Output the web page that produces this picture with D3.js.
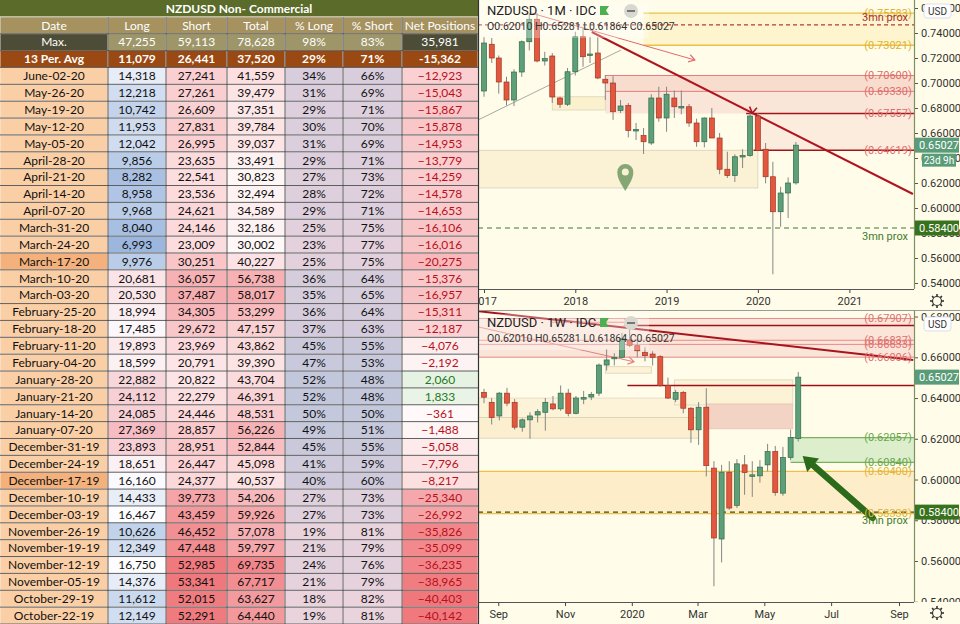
<!DOCTYPE html>
<html>
<head>
<meta charset="utf-8">
<script src="https://cdn.jsdelivr.net/npm/d3@7/dist/d3.min.js"></script>
<style>
  body { margin: 0; background: #ffffff; }
  svg { display: block; }
</style>
</head>
<body>
<div id="chart"></div>
<script>
// ---------- COT table ----------
var headers = ['Date', 'Long', 'Short', 'Total', '% Long', '% Short', 'Net Positions'];
var maxRow = ['Max.', '47,255', '59,113', '78,628', '98%', '83%', '35,981'];
var avgRow = ['13 Per. Avg', '11,079', '26,441', '37,520', '29%', '71%', '-15,362'];

var dates = ['June-02-20', 'May-26-20', 'May-19-20', 'May-12-20', 'May-05-20', 'April-28-20',
  'April-21-20', 'April-14-20', 'April-07-20', 'March-31-20', 'March-24-20', 'March-17-20',
  'March-10-20', 'March-03-20', 'February-25-20', 'February-18-20', 'February-11-20',
  'February-04-20', 'January-28-20', 'January-21-20', 'January-14-20', 'January-07-20',
  'December-31-19', 'December-24-19', 'December-17-19', 'December-10-19', 'December-03-19',
  'November-26-19', 'November-19-19', 'November-12-19', 'November-05-19', 'October-29-19',
  'October-22-19'];
var highlightDates = ['March-17-20', 'December-17-19'];
var longs = [14318, 12218, 10742, 11953, 12042, 9856, 8282, 8958, 9968, 8040, 6993, 9976, 20681,
  20530, 18994, 17485, 19893, 18599, 22882, 24112, 24085, 27369, 23893, 18651, 16160, 14433,
  16467, 10626, 12349, 16750, 14376, 11612, 12149];
var shorts = [27241, 27261, 26609, 27831, 26995, 23635, 22541, 23536, 24621, 24146, 23009, 30251,
  36057, 37487, 34305, 29672, 23969, 20791, 20822, 22279, 24446, 28857, 28951, 26447, 24377,
  39773, 43459, 46452, 47448, 52985, 53341, 52015, 52291];
var totals = [41559, 39479, 37351, 39784, 39037, 33491, 30823, 32494, 34589, 32186, 30002, 40227,
  56738, 58017, 53299, 47157, 43862, 39390, 43704, 46391, 48531, 56226, 52844, 45098, 40537,
  54206, 59926, 57078, 59797, 69735, 67717, 63627, 64440];
var pctLong = [34, 31, 29, 30, 31, 29, 27, 28, 29, 25, 23, 25, 36, 35, 36, 37, 45, 47, 52, 52, 50,
  49, 45, 41, 40, 27, 27, 19, 21, 24, 21, 18, 19];
var pctShort = [66, 69, 71, 70, 69, 71, 73, 72, 71, 75, 77, 75, 64, 65, 64, 63, 55, 53, 48, 48, 50,
  51, 55, 59, 60, 73, 73, 81, 79, 76, 79, 82, 81];
var nets = [-12923, -15043, -15867, -15878, -14953, -13779, -14259, -14578, -14653, -16106, -16016,
  -20275, -15376, -16957, -15311, -12187, -4076, -2192, 2060, 1833, -361, -1488, -5058, -7796,
  -8217, -25340, -26992, -35826, -35099, -36235, -38965, -40403, -40142];

// ---------- monthly candles (1M) ----------
var mDates = ['2017-01', '2017-02', '2017-03', '2017-04', '2017-05', '2017-06', '2017-07', '2017-08',
  '2017-09', '2017-10', '2017-11', '2017-12', '2018-01', '2018-02', '2018-03', '2018-04', '2018-05',
  '2018-06', '2018-07', '2018-08', '2018-09', '2018-10', '2018-11', '2018-12', '2019-01', '2019-02',
  '2019-03', '2019-04', '2019-05', '2019-06', '2019-07', '2019-08', '2019-09', '2019-10', '2019-11',
  '2019-12', '2020-01', '2020-02', '2020-03', '2020-04', '2020-05', '2020-06'];
var mOpen = [0.6936, 0.7310, 0.7200, 0.7008, 0.6864, 0.7088, 0.7330, 0.7510, 0.7176, 0.7216, 0.6880,
  0.6830, 0.7090, 0.7370, 0.7225, 0.7240, 0.7030, 0.7000, 0.6780, 0.6820, 0.6620, 0.6580, 0.6520,
  0.6880, 0.6720, 0.6880, 0.6810, 0.6810, 0.6680, 0.6530, 0.6720, 0.6560, 0.6310, 0.6260, 0.6410,
  0.6420, 0.6736, 0.6470, 0.6250, 0.5970, 0.6120, 0.62010];
var mHigh = [0.7370, 0.7360, 0.7220, 0.7050, 0.7110, 0.7340, 0.7558, 0.7560, 0.7250, 0.7240, 0.6890,
  0.7120, 0.7410, 0.7440, 0.7370, 0.7370, 0.7064, 0.7055, 0.6864, 0.6840, 0.6680, 0.6640, 0.6910,
  0.6970, 0.6970, 0.6940, 0.6940, 0.6832, 0.6715, 0.6725, 0.6800, 0.6600, 0.6450, 0.6430, 0.6470,
  0.6760, 0.6760, 0.6520, 0.6370, 0.6170, 0.6245, 0.65281];
var mLow = [0.6890, 0.7160, 0.6915, 0.6820, 0.6815, 0.7050, 0.7260, 0.7165, 0.7140, 0.6840, 0.6800,
  0.6816, 0.7060, 0.7130, 0.7160, 0.7030, 0.6864, 0.6705, 0.6760, 0.6565, 0.6544, 0.6432, 0.6505,
  0.6690, 0.6610, 0.6720, 0.6750, 0.6650, 0.6490, 0.6485, 0.6570, 0.6270, 0.6240, 0.6208, 0.6320,
  0.6410, 0.6460, 0.6197, 0.5470, 0.5850, 0.5920, 0.61864];
var mClose = [0.7320, 0.7200, 0.7008, 0.6864, 0.7088, 0.7330, 0.7510, 0.7176, 0.7195, 0.6888, 0.6830,
  0.7090, 0.7370, 0.7210, 0.7232, 0.7040, 0.7000, 0.6770, 0.6816, 0.6620, 0.6628, 0.6530, 0.6880,
  0.6720, 0.6910, 0.6810, 0.6812, 0.6680, 0.6530, 0.6720, 0.6560, 0.6310, 0.6260, 0.6410, 0.6420,
  0.6736, 0.6460, 0.6250, 0.5970, 0.6120, 0.6200, 0.65027];

// ---------- weekly candles (1W) ----------
var wDates = ['2019-08-19', '2019-08-26', '2019-09-02', '2019-09-09', '2019-09-16', '2019-09-23',
  '2019-09-30', '2019-10-07', '2019-10-14', '2019-10-21', '2019-10-28', '2019-11-04', '2019-11-11',
  '2019-11-18', '2019-11-25', '2019-12-02', '2019-12-09', '2019-12-16', '2019-12-23', '2019-12-30',
  '2020-01-06', '2020-01-13', '2020-01-20', '2020-01-27', '2020-02-03', '2020-02-10', '2020-02-17',
  '2020-02-24', '2020-03-02', '2020-03-09', '2020-03-16', '2020-03-23', '2020-03-30', '2020-04-06',
  '2020-04-13', '2020-04-20', '2020-04-27', '2020-05-04', '2020-05-11', '2020-05-18', '2020-05-25',
  '2020-06-01'];
var wOpen = [0.6428, 0.6379, 0.6312, 0.6424, 0.6379, 0.6257, 0.6293, 0.6317, 0.6330, 0.6371, 0.6347,
  0.6424, 0.6325, 0.6398, 0.6405, 0.6424, 0.6562, 0.6596, 0.6600, 0.6685, 0.6657, 0.6623, 0.6616,
  0.6603, 0.6461, 0.6394, 0.6428, 0.6350, 0.6244, 0.6355, 0.6056, 0.5708, 0.6036, 0.5873, 0.6072,
  0.6020, 0.6018, 0.6072, 0.6137, 0.5933, 0.6108, 0.62010];
var wHigh = [0.6445, 0.6400, 0.6430, 0.6450, 0.6395, 0.6300, 0.6330, 0.6345, 0.6400, 0.6410, 0.6462,
  0.6445, 0.6410, 0.6435, 0.6430, 0.6570, 0.6640, 0.6620, 0.6720, 0.6767, 0.6690, 0.6650, 0.6630,
  0.6610, 0.6500, 0.6440, 0.6435, 0.6355, 0.6380, 0.6448, 0.6090, 0.6072, 0.6090, 0.6100, 0.6120,
  0.6090, 0.6095, 0.6175, 0.6165, 0.6160, 0.6245, 0.65281];
var wLow = [0.6375, 0.6270, 0.6290, 0.6360, 0.6245, 0.6235, 0.6200, 0.6280, 0.6240, 0.6340, 0.6337,
  0.6310, 0.6320, 0.6370, 0.6390, 0.6410, 0.6535, 0.6560, 0.6595, 0.6650, 0.6600, 0.6580, 0.6560,
  0.6455, 0.6395, 0.6380, 0.6325, 0.6180, 0.6170, 0.6015, 0.5476, 0.5593, 0.5851, 0.5860, 0.5925,
  0.5915, 0.5985, 0.6040, 0.5920, 0.5920, 0.6095, 0.61864];
var wClose = [0.6404, 0.6304, 0.6424, 0.6375, 0.6257, 0.6293, 0.6312, 0.6333, 0.6379, 0.6347, 0.6424,
  0.6325, 0.6400, 0.6402, 0.6418, 0.6562, 0.6587, 0.6600, 0.6691, 0.6659, 0.6632, 0.6608, 0.6600,
  0.6461, 0.6400, 0.6428, 0.6350, 0.6244, 0.6355, 0.6068, 0.5713, 0.6036, 0.5860, 0.6077, 0.6034,
  0.6023, 0.6061, 0.6137, 0.5936, 0.6108, 0.6206, 0.65027];

// ---------- price levels & ticks ----------
var topTicks = [0.54, 0.56, 0.58, 0.60, 0.62, 0.64, 0.66, 0.68, 0.70, 0.72, 0.74, 0.76];
var botTicks = [0.54, 0.56, 0.58, 0.60, 0.62, 0.64, 0.66, 0.68];
var topGold = [0.75583, 0.73021];
var topPink = [0.70600, 0.69330];
var topDark = [0.67557, 0.64619];
var botPink = [0.67907, 0.66837, 0.66633, 0.66006];
var botDark = [0.67557, 0.64619];
var botGreen = [0.62057, 0.60840];
var botGold = [0.60400, 0.58330];
var proxTop = 0.7465, proxLow = 0.58400, lastPrice = 0.65027;
var ohlcText = 'O0.62010 H0.65281 L0.61864 C0.65027';

var W = 960, H = 624;
var fmtP = d3.format('.5f');
var parseM = d3.timeParse('%Y-%m'), parseW = d3.timeParse('%Y-%m-%d'), parseD = d3.timeParse('%Y-%m-%d');
var axisX = 914;
var chartFont = 'Roboto, "Liberation Sans", sans-serif';

var svg = d3.select('#chart').append('svg')
  .attr('width', W).attr('height', H)
  .style('font-family', chartFont);
var defs = svg.append('defs');

// scales
var xTop = d3.scaleTime().domain([new Date(2017, 0, 1), new Date(2021, 0, 1)]).range([484, 849.4]);
var yTop = d3.scaleLinear().domain([0.54, 0.74]).range([283, 33]);
var xBot = d3.scaleTime().domain([new Date(2019, 7, 19), new Date(2020, 8, 1)]).range([484, 899]);
var yBot = d3.scaleLinear().domain([0.56, 0.66]).range([561, 357.3]);

function makePanel(name, top, axisY, bottom) {
  var g = svg.append('g');
  g.append('rect').attr('x', 478).attr('y', top).attr('width', 482).attr('height', bottom - top)
    .attr('fill', '#fffde9');
  defs.append('clipPath').attr('id', 'clip-' + name).append('rect')
    .attr('x', 479).attr('y', top).attr('width', axisX - 479).attr('height', axisY - top);
  var plot = g.append('g').attr('clip-path', 'url(#clip-' + name + ')');
  return { g: g, plot: plot };
}

function box(layer, x, y, d0, d1, p0, p1, fill, stroke, op) {
  var xa = d0 ? x(parseD(d0)) : 478, xb = d1 ? x(parseD(d1)) : axisX;
  layer.append('rect')
    .attr('x', xa).attr('y', y(Math.max(p0, p1)))
    .attr('width', xb - xa).attr('height', Math.abs(y(p0) - y(p1)))
    .attr('fill', fill).attr('fill-opacity', op == null ? 1 : op)
    .attr('stroke', stroke || 'none').attr('stroke-width', 0.8);
}

function hline(layer, x, y, d0, p, color, width, dash) {
  var xa = d0 ? x(parseD(d0)) : 478;
  layer.append('line')
    .attr('x1', xa).attr('x2', axisX).attr('y1', y(p)).attr('y2', y(p))
    .attr('stroke', color).attr('stroke-width', width || 1)
    .attr('stroke-dasharray', dash || null);
}

function levelLabel(g, y, p, color, txt) {
  g.append('text').attr('x', 888).attr('y', y(p)).attr('dy', '0.35em')
    .attr('text-anchor', 'middle').attr('fill', color)
    .style('font-size', '11px')
    .text(txt || '(' + fmtP(p) + ')');
}

function seg(layer, x, y, d0, p0, d1, p1, color, width) {
  return layer.append('line')
    .attr('x1', x(parseD(d0))).attr('y1', y(p0))
    .attr('x2', x(parseD(d1))).attr('y2', y(p1))
    .attr('stroke', color).attr('stroke-width', width);
}

function chevron(layer, px, py, ang, size, color, width) {
  var a1 = ang + Math.PI * 0.82, a2 = ang - Math.PI * 0.82;
  layer.append('path')
    .attr('d', 'M' + (px + size * Math.cos(a1)) + ',' + (py + size * Math.sin(a1)) +
      'L' + px + ',' + py + 'L' + (px + size * Math.cos(a2)) + ',' + (py + size * Math.sin(a2)))
    .attr('fill', 'none').attr('stroke', color).attr('stroke-width', width);
}

function drawCandles(layer, ds, parse, o, h, l, c, x, y, bw) {
  var idx = d3.range(ds.length);
  layer.append('g').selectAll('line').data(idx).enter().append('line')
    .attr('x1', function (i) { return x(parse(ds[i])); })
    .attr('x2', function (i) { return x(parse(ds[i])); })
    .attr('y1', function (i) { return y(h[i]); })
    .attr('y2', function (i) { return y(l[i]); })
    .attr('stroke', '#858585').attr('stroke-width', 1);
  layer.append('g').selectAll('rect').data(idx).enter().append('rect')
    .attr('x', function (i) { return x(parse(ds[i])) - bw / 2; })
    .attr('y', function (i) { return y(Math.max(o[i], c[i])); })
    .attr('width', bw)
    .attr('height', function (i) { return Math.max(1.5, Math.abs(y(o[i]) - y(c[i]))); })
    .attr('fill', function (i) { return c[i] >= o[i] ? '#5c9f79' : '#e4573f'; })
    .attr('stroke', function (i) { return c[i] >= o[i] ? '#2f6b4b' : '#9e3524'; })
    .attr('stroke-width', 0.7);
}

function priceAxis(g, y, ticks, top, bottom, name) {
  defs.append('clipPath').attr('id', 'yclip-' + name).append('rect')
    .attr('x', axisX - 2).attr('y', top).attr('width', 50).attr('height', bottom - top);
  var a = g.append('g').attr('clip-path', 'url(#yclip-' + name + ')')
    .append('g').attr('transform', 'translate(' + axisX + ',0)')
    .call(d3.axisRight(y).tickValues(ticks).tickFormat(fmtP).tickSize(4).tickPadding(3));
  a.select('.domain').remove();
  a.selectAll('.tick line').attr('stroke', '#555');
  a.selectAll('.tick text').attr('fill', '#333').style('font-size', '11px').style('font-family', chartFont);
  g.append('line').attr('x1', axisX + 0.5).attr('x2', axisX + 0.5).attr('y1', top).attr('y2', bottom)
    .attr('stroke', '#7f8f62').attr('stroke-width', 1.2);
}

function timeAxis(g, x, yPos, ticks, fmt) {
  var a = g.append('g').attr('transform', 'translate(0,' + yPos + ')')
    .call(d3.axisBottom(x).ticks(ticks).tickFormat(fmt).tickSize(4).tickPadding(4));
  a.select('.domain').remove();
  a.selectAll('.tick line').attr('stroke', '#444');
  a.selectAll('.tick text').attr('fill', '#333').style('font-size', '11px').style('font-family', chartFont);
  g.append('line').attr('x1', 478).attr('x2', axisX).attr('y1', yPos + 0.5).attr('y2', yPos + 0.5)
    .attr('stroke', '#555').attr('stroke-width', 1.2);
}

function priceTag(g, y, p, fill, txt) {
  g.append('rect').attr('x', axisX + 1).attr('y', y(p) - 7.5).attr('width', W - axisX - 2).attr('height', 15)
    .attr('fill', fill);
  g.append('text').attr('x', axisX + 5).attr('y', y(p)).attr('dy', '0.35em').attr('fill', '#fff')
    .style('font-size', '11px').text(txt || fmtP(p));
}

function usdTag(g, cy) {
  g.append('rect').attr('x', 924).attr('y', cy - 7).attr('width', 27).attr('height', 14).attr('rx', 3)
    .attr('fill', '#ffffff').attr('stroke', '#dde');
  g.append('text').attr('x', 937.5).attr('y', cy).attr('dy', '0.35em').attr('text-anchor', 'middle')
    .attr('fill', '#333').style('font-size', '10px').text('USD');
}

function gear(g, cx, cy) {
  var k;
  for (k = 0; k < 8; k++) {
    var a = k * Math.PI / 4;
    g.append('line').attr('x1', cx + 4.5 * Math.cos(a)).attr('y1', cy + 4.5 * Math.sin(a))
      .attr('x2', cx + 7 * Math.cos(a)).attr('y2', cy + 7 * Math.sin(a))
      .attr('stroke', '#333').attr('stroke-width', 1.6);
  }
  g.append('circle').attr('cx', cx).attr('cy', cy).attr('r', 4.5).attr('fill', '#fffde9')
    .attr('stroke', '#333').attr('stroke-width', 1.2);
}

function header(g, y0, tf) {
  g.append('rect').attr('x', 479).attr('y', y0 - 8).attr('width', 170).attr('height', 36)
    .attr('fill', '#ffffff').attr('fill-opacity', 0.3);
  g.append('text').attr('x', 487).attr('y', y0 + 5).attr('fill', '#222').style('font-size', '13px')
    .text('NZDUSD · ' + tf + ' · IDC');
  g.append('path').attr('d', 'M600,' + (y0 - 4) + 'h9l-3,4.5l3,4.5h-9z').attr('fill', '#4caf50');
  g.append('circle').attr('cx', 631).attr('cy', y0 + 1).attr('r', 7).attr('fill', '#d8d8d0');
  g.append('line').attr('x1', 627).attr('x2', 635).attr('y1', y0 + 1).attr('y2', y0 + 1)
    .attr('stroke', '#777').attr('stroke-width', 2);
  g.append('text').attr('x', 487).attr('y', y0 + 20).attr('fill', '#333').style('font-size', '10.5px')
    .text(ohlcText);
}

// ================= TOP PANEL (1M) =================
var tp = makePanel('top', 0, 289, 310);
var L = tp.plot;
box(L, xTop, yTop, '2018-10-01', null, topGold[0], topGold[1], '#fdf0bd', null, 0.6);
box(L, xTop, yTop, '2018-05-01', null, topPink[0], topPink[1], '#f6d3c6', null, 0.8);
box(L, xTop, yTop, '2018-05-01', null, topPink[1], topDark[0], '#f9e0d4', null, 0.8);
box(L, xTop, yTop, '2019-12-15', null, topDark[0], topDark[1], '#fbe7da', null, 0.8);
box(L, xTop, yTop, '2017-10-01', '2018-05-01', 0.6890, 0.6784, '#fcf1cf', '#ddd5b5');
box(L, xTop, yTop, '2016-11-01', '2020-01-01', topDark[1], 0.6160, '#fbf1d4', '#d6cfb8');
// thin grey channel line
seg(L, xTop, yTop, '2016-12-08', 0.6704, '2018-07-03', 0.7264, '#a9a9a0', 1);
topGold.forEach(function (p) { hline(L, xTop, yTop, '2018-10-01', p, '#e9c148', 1.3); });
hline(L, xTop, yTop, null, proxTop, '#b33a3a', 1.2, '4,3');
topPink.forEach(function (p) { hline(L, xTop, yTop, '2018-05-01', p, '#e27d7d', 1); });
hline(L, xTop, yTop, '2019-11-15', topDark[0], '#a3151b', 1.5);
hline(L, xTop, yTop, '2019-12-15', topDark[1], '#a3151b', 1.5);
hline(L, xTop, yTop, null, proxLow, '#3f7b2c', 1.2, '5,4');
// thin arrow
seg(L, xTop, yTop, '2017-07-08', 0.7560, '2019-04-24', 0.7184, '#e06b6b', 1);
chevron(L, xTop(parseD('2019-04-24')), yTop(0.7184), 0.29, 7, '#e06b6b', 1.2);
// main downtrend line
seg(L, xTop, yTop, '2018-03-08', 0.7408, '2021-09-12', 0.6112, '#b0141e', 2);
chevron(L, xTop(parseD('2019-12-10')), yTop(0.6760), Math.PI / 2 + 0.15, 7, '#b0141e', 1.6);
// location pin
(function () {
  var px = xTop(parseD('2018-07-20')), py = yTop(0.6160) - 16;
  L.append('path')
    .attr('d', 'M' + px + ',' + (py + 19) + 'C' + (px - 4) + ',' + (py + 12) + ' ' + (px - 8) + ',' + (py + 7) + ' ' + (px - 8) + ',' + py +
      'A8,8 0 1,1 ' + (px + 8) + ',' + py + 'C' + (px + 8) + ',' + (py + 7) + ' ' + (px + 4) + ',' + (py + 12) + ' ' + px + ',' + (py + 19) + 'Z')
    .attr('fill', '#6e9a63').attr('fill-opacity', 0.85);
  L.append('circle').attr('cx', px).attr('cy', py).attr('r', 3.5).attr('fill', '#fbf1d4');
})();
drawCandles(L, mDates, parseM, mOpen, mHigh, mLow, mClose, xTop, yTop, 5);

topGold.forEach(function (p) { levelLabel(tp.g, yTop, p, '#e0b232'); });
topPink.forEach(function (p) { levelLabel(tp.g, yTop, p, '#e06b6b'); });
topDark.forEach(function (p) { levelLabel(tp.g, yTop, p, '#e06b6b'); });
tp.g.append('text').attr('x', 908).attr('y', yTop(proxTop) - 4).attr('text-anchor', 'end')
  .attr('fill', '#a83232').style('font-size', '11px').text('3mn prox');
tp.g.append('text').attr('x', 908).attr('y', yTop(proxLow) + 12).attr('text-anchor', 'end')
  .attr('fill', '#3f7b2c').style('font-size', '11px').text('3mn prox');
header(tp.g, 10, '1M');

priceAxis(tp.g, yTop, topTicks, 0, 289, 'top');
timeAxis(tp.g, xTop, 289, d3.timeYear.every(1), d3.timeFormat('%Y'));
priceTag(tp.g, yTop, lastPrice, '#5a9c79');
tp.g.append('rect').attr('x', 922).attr('y', yTop(lastPrice) + 8.5).attr('width', 34).attr('height', 13)
  .attr('fill', '#5a9c79');
tp.g.append('text').attr('x', 939).attr('y', yTop(lastPrice) + 15).attr('dy', '0.35em')
  .attr('text-anchor', 'middle').attr('fill', '#fff').style('font-size', '10px').text('23d 9h');
priceTag(tp.g, yTop, proxLow, '#38721c');
usdTag(tp.g, 11);
gear(tp.g, 937, 301);

// separator between panels
svg.append('line').attr('x1', 478).attr('x2', W).attr('y1', 310.5).attr('y2', 310.5)
  .attr('stroke', '#9a9a9a').attr('stroke-width', 1);

// ================= BOTTOM PANEL (1W) =================
var bp = makePanel('bot', 311, 602, 624);
var B = bp.plot;
box(B, xBot, yBot, null, null, botPink[0], botPink[3], '#f9dcd2', null, 0.75);
box(B, xBot, yBot, '2019-12-08', '2020-01-19', 0.6554, 0.6522, '#fcf2d6', '#ddd3b8');
box(B, xBot, yBot, null, '2020-03-02', 0.6400, 0.6304, '#fcf3d8', '#e2d9bf');
box(B, xBot, yBot, null, '2020-03-02', 0.6304, 0.6203, '#fbefcf', '#d9cfb3');
box(B, xBot, yBot, '2020-02-09', '2020-05-27', 0.6489, 0.6366, '#fcf2d6', '#ddd3b8');
box(B, xBot, yBot, '2020-03-09', '2020-05-27', 0.6371, 0.6249, '#f3d3c3', '#e6c3b0');
box(B, xBot, yBot, '2020-05-25', null, botGreen[0], botGreen[1], '#d8ecc9', null, 0.9);
box(B, xBot, yBot, null, null, botGold[0], botGold[1], '#fce8bd', null, 0.75);
botPink.forEach(function (p) { hline(B, xBot, yBot, null, p, '#e68a8a', 1); });
hline(B, xBot, yBot, '2020-01-01', botDark[0], '#9c1018', 1.5);
hline(B, xBot, yBot, '2019-12-28', botDark[1], '#9c1018', 1.5);
botGreen.forEach(function (p) { hline(B, xBot, yBot, '2020-05-25', p, '#78b45c', 1.2); });
botGold.forEach(function (p) { hline(B, xBot, yBot, null, p, '#eec04a', 1.3); });
hline(B, xBot, yBot, null, proxLow, '#3b4a2c', 1.1, '5,4');
// trend lines
seg(B, xBot, yBot, '2019-08-13', 0.6827, '2020-09-14', 0.6587, '#a8141d', 2);
seg(B, xBot, yBot, '2019-08-13', 0.6750, '2020-01-03', 0.6578, '#e58080', 1);
chevron(B, xBot(parseD('2020-01-03')), yBot(0.6578), 0.22, 7, '#e58080', 1.2);
seg(B, xBot, yBot, '2019-10-20', 0.6772, '2019-12-30', 0.6772, '#e58080', 1);
chevron(B, xBot(parseD('2019-12-30')), yBot(0.6772), 0, 7, '#e58080', 1.2);
B.append('rect').attr('x', xBot(parseD('2020-01-01')) - 3).attr('y', yBot(0.6778) - 2.5)
  .attr('width', 7).attr('height', 5).attr('rx', 1.5).attr('fill', '#a9aab0');
drawCandles(B, wDates, parseW, wOpen, wHigh, wLow, wClose, xBot, yBot, 5);
// big green arrow
(function () {
  var x1 = xBot(parseD('2020-08-08')), y1 = yBot(0.5812);
  var x2 = xBot(parseD('2020-06-05')), y2 = yBot(0.6115);
  var ang = Math.atan2(y2 - y1, x2 - x1);
  B.append('line').attr('x1', x1).attr('y1', y1).attr('x2', x2 - 8 * Math.cos(ang)).attr('y2', y2 - 8 * Math.sin(ang))
    .attr('stroke', '#2c6a1c').attr('stroke-width', 6.5).attr('stroke-linecap', 'round');
  var hx = x2 - 14 * Math.cos(ang), hy = y2 - 14 * Math.sin(ang);
  var nx = -Math.sin(ang), ny = Math.cos(ang);
  B.append('path').attr('d', 'M' + x2 + ',' + y2 + 'L' + (hx + 9 * nx) + ',' + (hy + 9 * ny) +
    'L' + (hx - 9 * nx) + ',' + (hy - 9 * ny) + 'Z').attr('fill', '#2c6a1c');
})();

botPink.forEach(function (p) { levelLabel(bp.g, yBot, p, '#e07070'); });
botGreen.forEach(function (p) { levelLabel(bp.g, yBot, p, '#6aa64c'); });
botGold.forEach(function (p) { levelLabel(bp.g, yBot, p, '#e5b435'); });
bp.g.append('text').attr('x', 908).attr('y', yBot(proxLow) + 12).attr('text-anchor', 'end')
  .attr('fill', '#3f7b2c').style('font-size', '11px').text('3mn prox');
header(bp.g, 322, '1W');

priceAxis(bp.g, yBot, botTicks, 311, 602, 'bot');
timeAxis(bp.g, xBot, 602, d3.timeMonth.every(2), function (d) {
  return d.getMonth() === 0 ? d3.timeFormat('%Y')(d) : d3.timeFormat('%b')(d);
});
priceTag(bp.g, yBot, lastPrice, '#5a9c79');
priceTag(bp.g, yBot, proxLow, '#38721c');
usdTag(bp.g, 324);
gear(bp.g, 937, 613);

// ================= COT TABLE =================
var cols = [0, 108, 166, 227, 285, 343, 402, 478];
var rowH = H / 37;
var longColor = d3.scaleLinear().domain([d3.min(longs), 16500, d3.max(longs)]).range(['#9cb7de', '#fdfdff', '#f5bdc3']);
var shortColor = d3.scaleLinear().domain(d3.extent(shorts)).range(['#fde4e6', '#ef787c']);
var totalColor = d3.scaleLinear().domain([d3.min(totals), 45000, d3.max(totals)]).range(['#fff8f8', '#fbd8da', '#f1868a']);
var pctColor = d3.scaleLinear().domain(d3.extent(pctLong)).range(['#ead3dd', '#c2c7dc']);
var netColor = d3.scaleLinear().domain([d3.min(nets), 0, d3.max(nets)]).range(['#ef787c', '#fffafa', '#e6f3e3']);
var fmtN = d3.format(',');

var T = svg.append('g').style('font-family', 'Lato, "Open Sans", sans-serif').style('font-size', '12px');

function cell(row, col, fill, txt, color, weight) {
  var x0 = cols[col], x1 = cols[col + 1], y0 = row * rowH;
  T.append('rect').attr('x', x0).attr('y', y0).attr('width', x1 - x0).attr('height', rowH)
    .attr('fill', fill).attr('stroke', '#f4f4f4').attr('stroke-width', 0.8);
  T.append('text').attr('x', (x0 + x1) / 2).attr('y', y0 + rowH / 2).attr('dy', '0.36em')
    .attr('text-anchor', 'middle').attr('fill', color).attr('font-weight', weight || 'normal').text(txt);
}

T.append('rect').attr('x', 0).attr('y', 0).attr('width', 478).attr('height', rowH).attr('fill', '#5a6b2a');
T.append('text').attr('x', 239).attr('y', rowH / 2).attr('dy', '0.36em').attr('text-anchor', 'middle')
  .attr('fill', '#fff').attr('font-weight', 'bold').text('NZDUSD Non- Commercial');

headers.forEach(function (h, j) { cell(1, j, '#a5925f', h, '#ffffff'); });
maxRow.forEach(function (v, j) {
  cell(2, j, (j === 0 || j === 6) ? '#4d4c36' : '#9e9668', v, '#ffffff');
});
avgRow.forEach(function (v, j) { cell(3, j, '#9a4912', v, '#ffffff', 'bold'); });

dates.forEach(function (d, i) {
  var r = i + 4;
  cell(r, 0, highlightDates.indexOf(d) >= 0 ? '#f5b17c' : '#fbcfa5', d, '#111');
  cell(r, 1, longColor(longs[i]), fmtN(longs[i]), '#111');
  cell(r, 2, shortColor(shorts[i]), fmtN(shorts[i]), '#111');
  cell(r, 3, totalColor(totals[i]), fmtN(totals[i]), '#111');
  cell(r, 4, pctColor(pctLong[i]), pctLong[i] + '%', '#111');
  cell(r, 5, pctColor(pctLong[i]), pctShort[i] + '%', '#111');
  cell(r, 6, netColor(nets[i]), fmtN(nets[i]), nets[i] > 0 ? '#1f7a1f' : '#b8101c');
});

// grid lines
d3.range(2, 38).forEach(function (k) {
  T.append('line').attr('x1', 0).attr('x2', 478).attr('y1', k * rowH).attr('y2', k * rowH)
    .attr('stroke', '#3a3a3a').attr('stroke-width', 0.8);
});
cols.slice(1, 7).forEach(function (cx) {
  T.append('line').attr('x1', cx).attr('x2', cx).attr('y1', rowH).attr('y2', H)
    .attr('stroke', '#3a3a3a').attr('stroke-width', 0.8);
});
T.append('line').attr('x1', 478.5).attr('x2', 478.5).attr('y1', 0).attr('y2', H)
  .attr('stroke', '#333').attr('stroke-width', 1.2);
</script>
</body>
</html>
